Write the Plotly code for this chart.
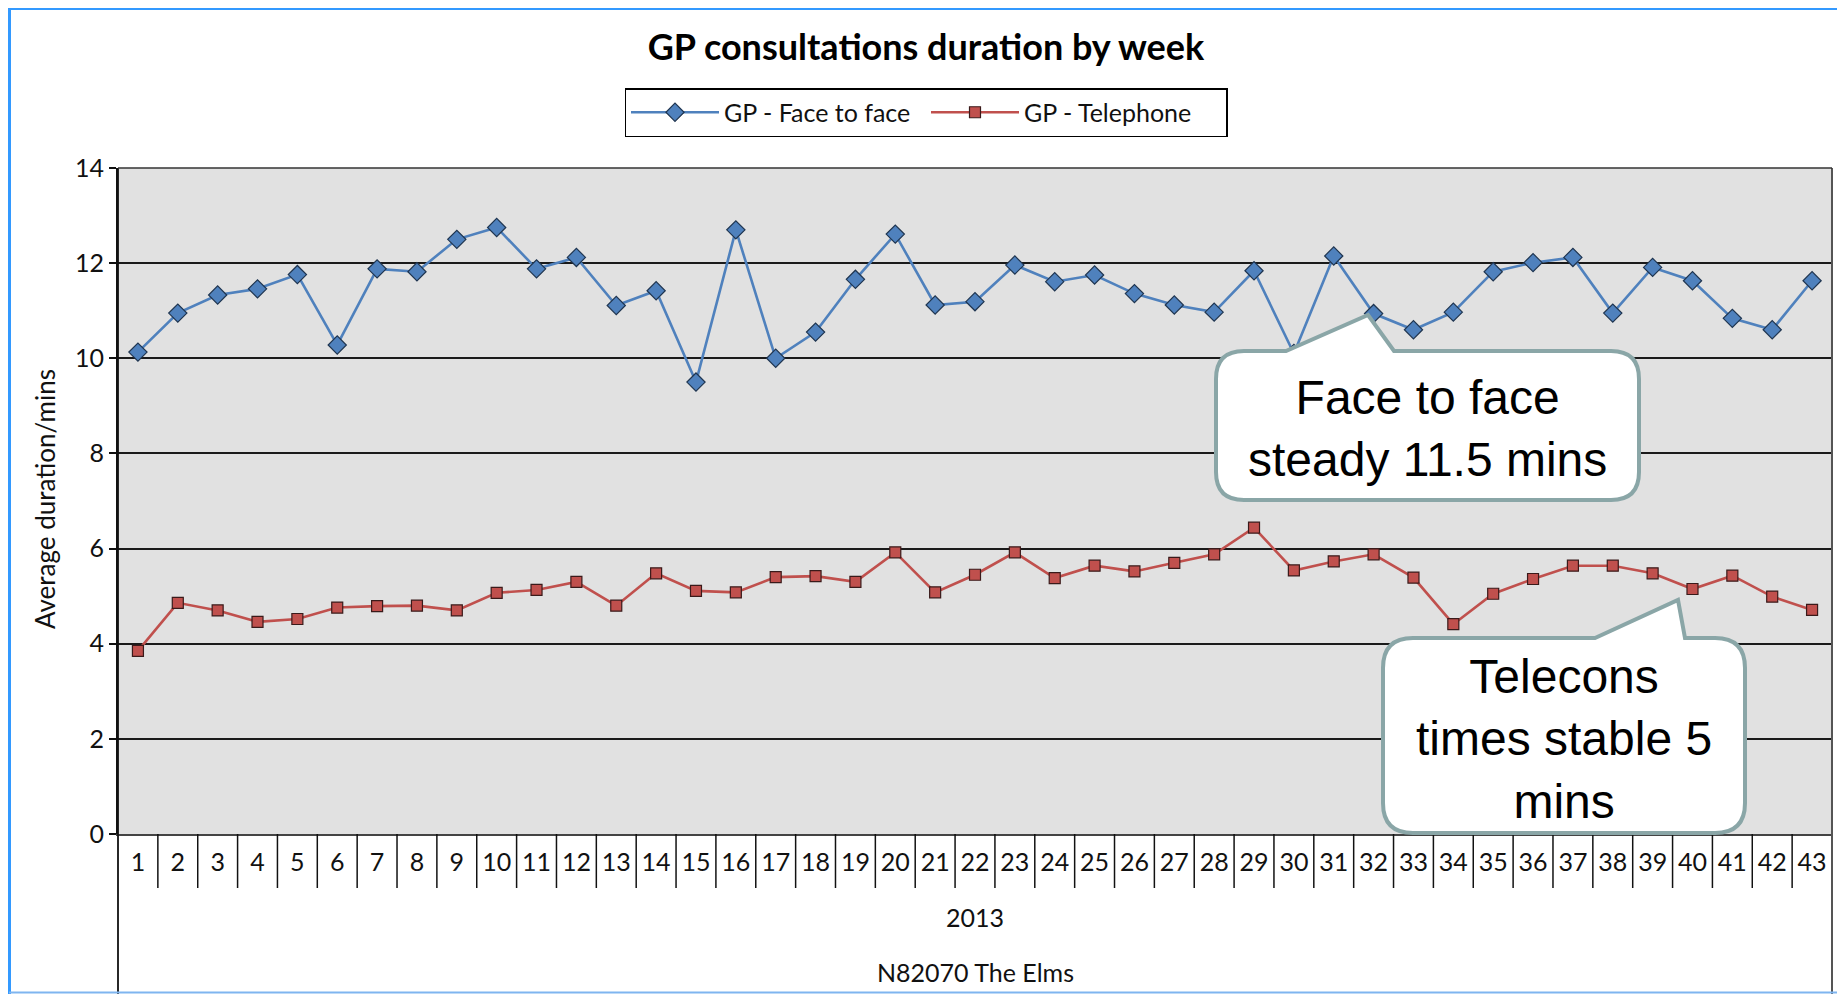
import plotly.graph_objects as go

weeks = [str(i) for i in range(1, 44)]
face_to_face = [10.13, 10.95, 11.33, 11.46, 11.76, 10.28, 11.88, 11.82, 12.50, 12.75,
                11.88, 12.12, 11.11, 11.42, 9.50, 12.70, 10.00, 10.55, 11.66, 12.61,
                11.12, 11.19, 11.96, 11.61, 11.75, 11.36, 11.12, 10.97, 11.84, 10.10,
                12.15, 10.94, 10.60, 10.97, 11.82, 12.01, 12.12, 10.95, 11.91, 11.63,
                10.84, 10.60, 11.63]
telephone = [3.85, 4.86, 4.70, 4.46, 4.52, 4.76, 4.79, 4.80, 4.70, 5.07,
             5.13, 5.30, 4.80, 5.48, 5.11, 5.08, 5.40, 5.42, 5.30, 5.92,
             5.08, 5.45, 5.92, 5.38, 5.64, 5.52, 5.70, 5.88, 6.44, 5.54,
             5.73, 5.88, 5.39, 4.41, 5.05, 5.36, 5.64, 5.64, 5.48, 5.15,
             5.43, 4.99, 4.71]
y_ticks = [0, 2, 4, 6, 8, 10, 12, 14]

# page is 1845x994; the html body adds an 8px offset, so the figure is drawn 8px smaller
OFF = 8
PAGE_W, PAGE_H = 1845, 994
W, H = PAGE_W - OFF, PAGE_H - OFF
PLOT_L, PLOT_R, PLOT_T, PLOT_B = 118, 1832, 168, 834   # page pixels
L_M, R_M = PLOT_L - OFF, W - (PLOT_R - OFF)
T_M, B_M = PLOT_T - OFF, H - (PLOT_B - OFF)
PW = PLOT_R - PLOT_L
PH = PLOT_B - PLOT_T

def px(x):
    return (x - PLOT_L) / PW

def py(y):
    return (PLOT_B - y) / PH

FONT = "Lato"

fig = go.Figure()
fig.add_trace(go.Scatter(
    x=weeks, y=face_to_face, name="GP - Face to face", mode="lines+markers",
    line=dict(color="#4F81BD", width=2.6),
    marker=dict(symbol="diamond", size=14, color="#4F81BD",
                line=dict(color="#1F3550", width=1.2)),
))
fig.add_trace(go.Scatter(
    x=weeks, y=telephone, name="GP - Telephone", mode="lines+markers",
    line=dict(color="#C0504D", width=2.6),
    marker=dict(symbol="square", size=11, color="#C0504D",
                line=dict(color="#3A1A1A", width=1.2)),
))

shapes = []
# category dividers under the x axis
for i in range(1, len(weeks)):
    shapes.append(dict(type="line", xref="x", yref="paper", x0=i - 0.5, x1=i - 0.5,
                       y0=0, y1=py(888), line=dict(color="#111", width=1.5), layer="above"))
# left axis extension and right plot edge
shapes.append(dict(type="line", xref="paper", yref="paper", x0=0, x1=0, y0=1, y1=py(PAGE_H + 5),
                   line=dict(color="#111", width=1.8)))
shapes.append(dict(type="line", xref="paper", yref="paper", x0=1, x1=1, y0=1, y1=py(PAGE_H + 5),
                   line=dict(color="#555", width=2)))
shapes.append(dict(type="line", xref="paper", yref="paper", x0=0, x1=1, y0=1, y1=1,
                   line=dict(color="#333", width=1.5)))

# outer frame (page coordinates)
shapes.append(dict(type="line", xref="paper", yref="paper", x0=px(9.5), x1=px(9.5), y0=py(8), y1=py(PAGE_H + 5),
                   line=dict(color="#3399FF", width=3)))
shapes.append(dict(type="line", xref="paper", yref="paper", x0=px(8), x1=px(PAGE_W + 5), y0=py(9), y1=py(9),
                   line=dict(color="#3399FF", width=2)))
shapes.append(dict(type="line", xref="paper", yref="paper", x0=px(1842), x1=px(1842), y0=py(8), y1=py(PAGE_H + 5),
                   line=dict(color="#3399FF", width=5)))
shapes.append(dict(type="line", xref="paper", yref="paper", x0=px(9), x1=px(PAGE_W), y0=py(992.5), y1=py(992.5),
                   line=dict(color="#7FB5F0", width=2)))


def callout(L, T, R, B, r, b1, tipx, tipy, b2):
    p = (f"M {px(L + r)},{py(T)} L {px(b1)},{py(T)} L {px(tipx)},{py(tipy)} "
         f"L {px(b2)},{py(T)} L {px(R - r)},{py(T)} "
         f"Q {px(R)},{py(T)} {px(R)},{py(T + r)} L {px(R)},{py(B - r)} "
         f"Q {px(R)},{py(B)} {px(R - r)},{py(B)} L {px(L + r)},{py(B)} "
         f"Q {px(L)},{py(B)} {px(L)},{py(B - r)} L {px(L)},{py(T + r)} "
         f"Q {px(L)},{py(T)} {px(L + r)},{py(T)} Z")
    return dict(type="path", xref="paper", yref="paper", path=p, fillcolor="white",
                line=dict(color="#8AA6A7", width=4), layer="above")

shapes.append(callout(1216, 351, 1639, 500, 28, 1286, 1368, 315, 1394))
shapes.append(callout(1383, 638, 1745, 833, 30, 1595, 1678, 600, 1685))

annotations = [
    dict(text="Average duration/mins", xref="paper", yref="paper", x=px(45), y=py(499),
         textangle=-90, showarrow=False, font=dict(family=FONT, size=26, color="#111"),
         xanchor="center", yanchor="middle"),
    dict(text="2013", xref="paper", yref="paper", x=0.5, y=py(917), showarrow=False,
         font=dict(family=FONT, size=25, color="#111"), yanchor="middle"),
    dict(text="N82070 The Elms", xref="paper", yref="paper", x=0.5, y=py(972), showarrow=False,
         font=dict(family=FONT, size=25, color="#111"), yanchor="middle"),
    dict(text="Face to face<br>steady 11.5 mins", xref="paper", yref="paper", x=px(1427), y=py(428),
         showarrow=False, font=dict(family="Liberation Sans", size=48, color="black"),
         xanchor="center", yanchor="middle", align="center"),
    dict(text="Telecons<br>times stable 5<br>mins", xref="paper", yref="paper", x=px(1564), y=py(739),
         showarrow=False, font=dict(family="Liberation Sans", size=48, color="black"),
         xanchor="center", yanchor="middle", align="center"),
]

fig.update_layout(
    width=W, height=H,
    margin=dict(l=L_M, r=R_M, t=T_M, b=B_M, autoexpand=False),
    paper_bgcolor="white", plot_bgcolor="#E1E1E1",
    font=dict(family=FONT, color="#111"),
    title=dict(text="<b>GP consultations duration by week</b>", x=px(926), xref="paper",
               xanchor="center", y=1 - (47 - OFF) / H, yanchor="middle",
               font=dict(family=FONT, size=36, color="black")),
    showlegend=True,
    legend=dict(orientation="h", x=px(926), xanchor="center", y=py(88), yanchor="top",
                bgcolor="white", bordercolor="black", borderwidth=1.5,
                font=dict(family=FONT, size=25, color="#111"), itemwidth=88,
                entrywidth=197, entrywidthmode="pixels"),
    shapes=shapes, annotations=annotations,
)
fig.update_xaxes(type="category", range=[-0.5, len(weeks) - 0.5], showgrid=False,
                 showline=True, linecolor="#444", linewidth=2, ticks="",
                 tickfont=dict(family=FONT, size=25, color="#111"), ticklabelstandoff=5,
                 fixedrange=True)
fig.update_yaxes(range=[0, 14], tickvals=y_ticks, showgrid=True, gridcolor="#1A1A1A",
                 gridwidth=1.5, zeroline=False, showline=True, linecolor="#111", linewidth=1.8,
                 ticks="outside", ticklen=7, tickcolor="#111", tickwidth=1.5,
                 tickfont=dict(family=FONT, size=25, color="#111"), fixedrange=True)

fig.write_html("out.html", config={"displayModeBar": False})
